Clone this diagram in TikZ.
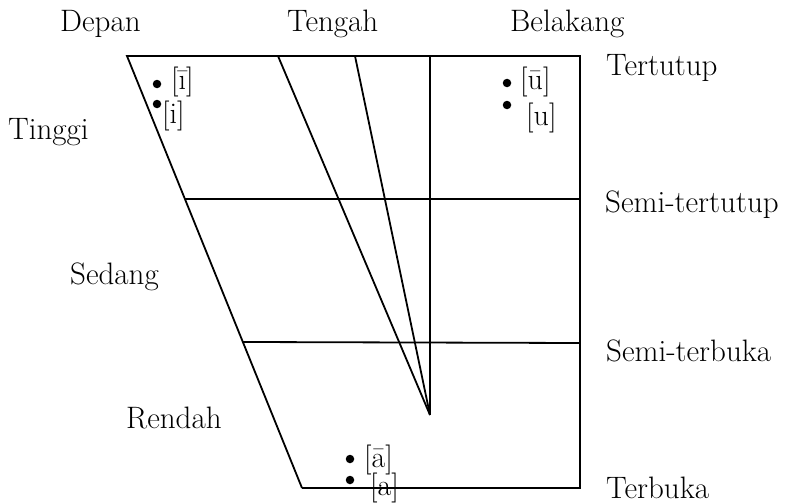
\documentclass[tikz,border=0pt]{standalone}
\usepackage{fontspec}
\usepackage{xcolor}
\usetikzlibrary{positioning, calc}

\begin{document}
\begin{tikzpicture}[x=1pt, y=-1pt,
    lbl/.style={anchor=base west, inner sep=0pt, font=\fontsize{31}{36}\selectfont},
    vowel/.style={anchor=base west, inner sep=0pt, font=\fontsize{30}{36}\selectfont},
    dot/.style={circle, fill, inner sep=0pt, minimum size=8.5pt},
    chart/.style={line width=1.8pt, line join=miter}
]
    \useasboundingbox (0,0) rectangle (787,503);

    % corners of the vowel trapezium
    \coordinate (tl) at (127,56);
    \coordinate (tr) at (580,56);
    \coordinate (br) at (580,488);
    \coordinate (bl) at (302,488);
    \coordinate (apex) at (430,415);

    \draw [chart] (bl) -- (tl) -- (tr) -- (br) -- (bl);
    \draw [chart] ($(tl)!0.331!(bl)$) -- (580,199);
    \draw [chart] ($(tl)!0.662!(bl)$) -- (580,343);
    \draw [chart] (278,56) -- (apex);
    \draw [chart] (355,56) -- (apex);
    \draw [chart] (430,56) -- (apex);

    % column and row labels
    \node (depan) [lbl] at (60,32) {Depan};
    \node (tengah) [lbl] at (287,32) {Tengah};
    \node (belakang) [lbl] at (510,32) {Belakang};
    \node (tertutup) [lbl] at (606,75) {Tertutup};
    \node (semitertutup) [lbl] at (605,212) {Semi-tertutup};
    \node (semiterbuka) [lbl] at (606,361) {Semi-terbuka};
    \node (terbuka) [lbl] at (606,498) {Terbuka};
    \node (tinggi) [lbl] at (8,139) {Tinggi};
    \node (sedang) [lbl] at (70,284) {Sedang};
    \node (rendah) [lbl] at (126,428) {Rendah};

    % vowels
    \node (d1) [dot] at (157,84) {};
    \node (v1) [vowel] at (171,89) {[ī]};
    \node (d2) [dot] at (157,104) {};
    \node (v2) [vowel] at (162,123) {[i]};
    \node (d3) [dot] at (507,83) {};
    \node (v3) [vowel] at (520,89) {[ū]};
    \node (d4) [dot] at (507,105) {};
    \node (v4) [vowel] at (526,125) {[u]};
    \node (d5) [dot] at (350,459) {};
    \node (v5) [vowel] at (364,467) {[ā]};
    \node (d6) [dot] at (350,480) {};
    \node (v6) [vowel] at (370,495) {[a]};
\end{tikzpicture}
\end{document}
